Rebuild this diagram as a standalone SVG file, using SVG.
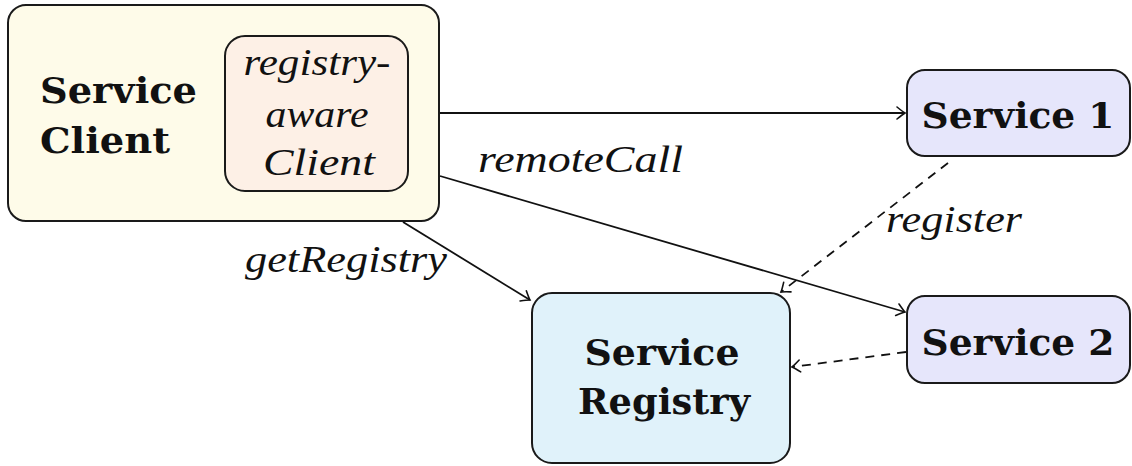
<svg xmlns="http://www.w3.org/2000/svg" width="1132" height="466" viewBox="0 0 1132 466">
  <style>
    .box { stroke: #1a1a1a; stroke-width: 2; }
    .bold { font-family: "DejaVu Serif", serif; font-weight: bold; font-size: 35px; fill: #111; }
    .ital { font-family: 'Liberation Serif', 'Times New Roman', serif; font-style: italic; font-size: 37px; fill: #111; }
    .edge { fill: none; stroke: #111; stroke-width: 1.8; }
    .dash { stroke-dasharray: 9 7; }
  </style>
  <defs>
    <marker id="arr" markerUnits="userSpaceOnUse" viewBox="-10 -8 12 16" refX="0" refY="0" markerWidth="12" markerHeight="16" orient="auto" overflow="visible">
      <path d="M -8 -6 Q -2.5 -1.5 0 0 Q -2.5 1.5 -8 6" fill="none" stroke="#111" stroke-width="1.6" stroke-linecap="round"/>
    </marker>
  </defs>

  <g id="service-client">
    <rect class="box" x="8" y="5" width="431" height="216" rx="18" fill="#fefbe9"/>
    <text class="bold" x="40" y="103" font-size="37" textLength="157" lengthAdjust="spacingAndGlyphs">Service</text>
    <text class="bold" x="40" y="153" font-size="37" textLength="130" lengthAdjust="spacingAndGlyphs">Client</text>
  </g>
  <g id="registry-aware-client">
    <rect class="box" x="225" y="36" width="183" height="155" rx="20" fill="#fdf0e6"/>
    <text class="ital" x="317" y="75" text-anchor="middle" textLength="147" lengthAdjust="spacingAndGlyphs">registry-</text>
    <text class="ital" x="317" y="127" text-anchor="middle" textLength="103" lengthAdjust="spacingAndGlyphs">aware</text>
    <text class="ital" x="319" y="175" text-anchor="middle" textLength="112" lengthAdjust="spacingAndGlyphs">Client</text>
  </g>
  <g id="service-1">
    <rect class="box" x="907" y="70" width="223" height="86" rx="18" fill="#e6e6fb"/>
    <text class="bold" x="1018" y="128" text-anchor="middle" textLength="193" lengthAdjust="spacingAndGlyphs">Service 1</text>
  </g>
  <g id="service-2">
    <rect class="box" x="907" y="296" width="223" height="87" rx="18" fill="#e6e6fb"/>
    <text class="bold" x="1018" y="355" text-anchor="middle" textLength="193" lengthAdjust="spacingAndGlyphs">Service 2</text>
  </g>
  <g id="service-registry">
    <rect class="box" x="532" y="293" width="258" height="170" rx="20" fill="#e0f2fa"/>
    <text class="bold" x="662" y="365" text-anchor="middle" textLength="155" lengthAdjust="spacingAndGlyphs">Service</text>
    <text class="bold" x="664" y="414" text-anchor="middle" textLength="172" lengthAdjust="spacingAndGlyphs">Registry</text>
  </g>

  <g id="connectors">
    <path class="edge" d="M 440 113 L 905 113" marker-end="url(#arr)"/>
    <path class="edge" d="M 440 176 L 905 312" marker-end="url(#arr)"/>
    <path class="edge" d="M 403 222 L 530 300" marker-end="url(#arr)"/>
    <path class="edge dash" d="M 948 163 L 781 292" marker-end="url(#arr)"/>
    <path class="edge dash" d="M 906 352 L 792 367" marker-end="url(#arr)"/>
    <text class="ital" x="478" y="172" textLength="205" lengthAdjust="spacingAndGlyphs">remoteCall</text>
    <text class="ital" x="245" y="272" textLength="202" lengthAdjust="spacingAndGlyphs">getRegistry</text>
    <text class="ital" x="886" y="232" textLength="136" lengthAdjust="spacingAndGlyphs">register</text>
  </g>
</svg>
